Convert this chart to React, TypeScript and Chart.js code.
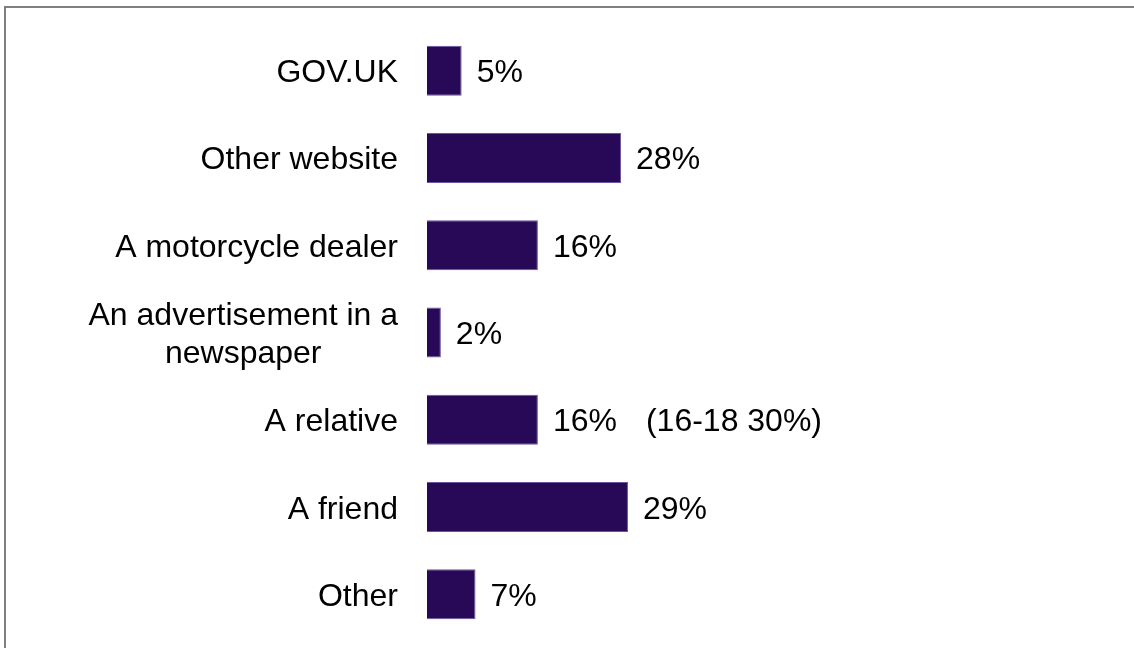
import React, { useEffect, useRef } from "react";
import { Chart, registerables } from "chart.js";

Chart.register(...registerables);

const categories: string[][] = [
  ["GOV.UK"],
  ["Other website"],
  ["A motorcycle dealer"],
  ["An advertisement in a", "newspaper"],
  ["A relative"],
  ["A friend"],
  ["Other"],
];
const values: number[] = [5, 28, 16, 2, 16, 29, 7];
const valueLabels: string[] = ["5%", "28%", "16%", "2%", "16%", "29%", "7%"];
const extraNotes: string[] = ["", "", "", "", "(16-18 30%)", "", ""];

const FONT = "'Liberation Sans', Arial, Helvetica, sans-serif";
const FONT_SIZE = 32;

const labelPlugin = {
  id: "customLabels",
  afterDatasetsDraw(chart: any) {
    const ctx = chart.ctx;
    const yScale = chart.scales.y;
    const xScale = chart.scales.x;
    const meta = chart.getDatasetMeta(0);
    ctx.save();
    ctx.font = `${FONT_SIZE}px ${FONT}`;
    ctx.fillStyle = "#000000";
    ctx.textBaseline = "alphabetic";
    const baseOff = 11.5;
    categories.forEach((lines, i) => {
      const y = yScale.getPixelForValue(i);
      const widths = lines.map((l) => ctx.measureText(l).width);
      const maxW = Math.max(...widths);
      const rightX = chart.chartArea.left - 29;
      const centerX = rightX - maxW / 2;
      const lh = 37.7;
      const startY = y - ((lines.length - 1) * lh) / 2;
      ctx.textAlign = "center";
      lines.forEach((l, j) => {
        ctx.fillText(l, centerX, startY + j * lh + baseOff);
      });
      const bar = meta.data[i];
      const endX = bar ? bar.x : xScale.getPixelForValue(values[i]);
      ctx.textAlign = "left";
      ctx.fillText(valueLabels[i], endX + 15, y + baseOff);
      if (extraNotes[i]) {
        const w = ctx.measureText(valueLabels[i]).width;
        ctx.fillText(extraNotes[i], endX + 15 + w + 29, y + baseOff);
      }
    });
    ctx.restore();
  },
};

export default function App() {
  const canvasRef = useRef<HTMLCanvasElement | null>(null);

  useEffect(() => {
    if (!canvasRef.current) return;
    const chart = new Chart(canvasRef.current, {
      type: "bar",
      data: {
        labels: categories.map((c) => c.join(" ")),
        datasets: [
          {
            data: values,
            backgroundColor: "#270958",
            borderColor: "#6a55a0",
            borderWidth: 1,
            barPercentage: 0.573,
            categoryPercentage: 1,
          },
        ],
      },
      options: {
        indexAxis: "y",
        responsive: false,
        maintainAspectRatio: false,
        animation: false,
        layout: { padding: { left: 427, right: 14, top: 27, bottom: 10 } },
        plugins: {
          legend: { display: false },
          tooltip: { enabled: false },
          title: { display: false },
        },
        scales: {
          x: { display: false, min: 0, max: 100 },
          y: { display: false },
        },
      },
      plugins: [labelPlugin],
    });
    return () => chart.destroy();
  }, []);

  return (
    <div
      style={{
        position: "fixed",
        left: 0,
        top: 0,
        width: 1134,
        height: 648,
        overflow: "hidden",
        background: "#ffffff",
      }}
    >
      <div
        style={{
          position: "absolute",
          left: 4,
          top: 6,
          width: 1200,
          height: 700,
          borderTop: "2px solid #7f7f7f",
          borderLeft: "2px solid #7f7f7f",
        }}
      />
      <canvas
        ref={canvasRef}
        width={1134}
        height={648}
        style={{ position: "absolute", left: 0, top: 0, width: 1134, height: 648 }}
      />
    </div>
  );
}
